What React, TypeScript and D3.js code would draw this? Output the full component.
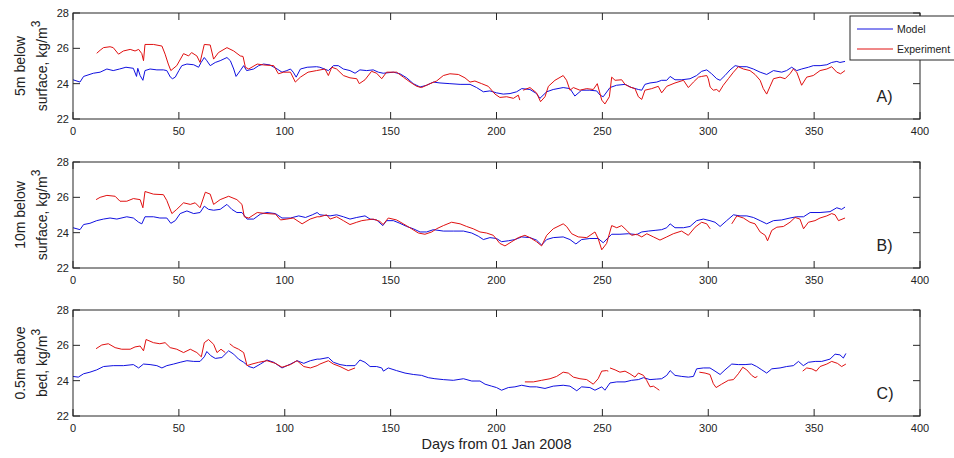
import React from 'react';
import * as d3 from 'd3';

type P = [number, number] | null;

const xTicks = [0, 50, 100, 150, 200, 250, 300, 350, 400];
const yTicks = [22, 24, 26, 28];
const panelLetters = ['A)', 'B)', 'C)'];
const yLabelLine1 = ['5m below', '10m below', '0.5m above'];
const yLabelLine2 = ['surface, kg/m', 'surface, kg/m', 'bed, kg/m'];
const legendNames = ['Model', 'Experiment'];
const xLabel = 'Days from 01 Jan 2008';

const modelA: P[] = [
  [0, 24.22], [3.3, 24.09], [5, 24.41], [9.6, 24.59], [12.8, 24.65], [16, 24.83], [19, 24.74], [22, 24.83],
  [25, 24.93], [28.5, 24.87], [30, 24.41], [30.6, 24.87], [31.7, 24.46], [33, 24.19], [34, 24.74], [36.4, 24.83],
  [39.6, 24.78], [42.7, 24.78], [44.3, 24.74], [46, 24.37], [47, 24.28], [48.3, 24.37], [50, 24.74], [51.4, 25.02],
  [53.8, 25.11], [57, 25.07], [59.3, 24.93], [60.5, 25.2], [62, 25.48], [63.2, 25.3], [64.8, 25.02], [67.2, 25.2],
  [69.5, 25.3], [72.7, 25.48], [74.3, 25.3], [75.9, 24.83], [77, 24.41], [79, 24.74], [80.6, 25.02], [82, 24.74],
  [85.3, 24.83], [87.7, 25.02], [90, 25.11], [93, 25.06], [96.4, 24.83], [98.7, 24.65], [101, 24.74], [102.7, 24.83],
  [104, 24.65], [105.4, 24.37], [107.4, 24.83], [110.6, 24.93], [115, 24.96], [116.6, 24.93], [120.6, 24.74],
  [123, 25.02], [125.3, 25.02], [127.7, 24.83], [130.8, 24.74], [133.2, 24.59], [135.5, 24.78], [138.7, 24.74],
  [141.8, 24.78], [144.2, 24.65], [146.5, 24.59], [151.3, 24.65], [154.4, 24.56], [157.6, 24.33], [160.7, 24.0],
  [163.9, 23.81], [167, 23.91], [170.2, 24.09], [173.3, 24.04], [178, 24.0], [182.8, 23.96], [187.5, 23.96],
  [190.6, 23.78], [193.8, 23.54], [196.9, 23.59], [200, 23.48], [203.2, 23.41], [206.4, 23.44], [209.5, 23.54],
  [211.9, 23.72], [215.8, 23.67], [218.9, 23.44], [220.5, 23.17], [223.7, 23.54], [226.8, 23.67], [231.5, 23.78],
  [234.7, 23.72], [237, 23.3], [240.2, 23.63], [244.1, 23.63], [247.3, 23.59], [248.9, 23.35], [250.4, 23.26],
  [253.6, 23.78], [256.7, 23.91], [260.7, 23.96], [263.8, 23.78], [267, 23.67], [268.6, 23.63], [270.1, 23.96],
  [272.5, 24.04], [275.7, 24.09], [278, 24.19], [280.4, 24.19], [282, 24.41], [284.3, 24.22], [287.5, 24.22],
  [291.4, 24.28], [294.5, 24.46], [296.9, 24.7], [299.3, 24.78], [301.6, 24.56], [304, 24.28], [305.6, 24.19],
  [307.9, 24.46], [310.3, 24.78], [312.7, 25.02], [315, 24.96], [318.2, 24.96], [321.3, 24.83], [324.5, 24.65],
  [327.6, 24.52], [330.8, 24.74], [334.7, 24.65], [337, 24.74], [339.4, 24.93], [341.8, 24.74], [344.1, 24.83],
  [347.3, 24.93], [349.6, 25.02], [352.8, 25.02], [356, 25.07], [358.3, 25.2], [360.7, 25.26], [362.2, 25.2],
  [364.6, 25.26],
];

const exptA: P[] = [
  [11.2, 25.72], [12.8, 25.89], [14.4, 26.04], [17.5, 26.09], [19, 26.04], [21.5, 25.67], [23.8, 25.85], [27, 25.94],
  [29.3, 25.85], [31, 25.94], [32.5, 25.7], [33.3, 25.3], [34, 26.22], [38, 26.22], [42, 26.13], [43.5, 25.67],
  [45, 25.11], [46.2, 24.74], [49, 25.02], [52.2, 25.7], [54.6, 25.57], [56, 25.76], [58.5, 25.57], [60, 25.2],
  [62, 26.22], [64.8, 26.19], [66.4, 25.39], [68.7, 25.76], [72.7, 26.04], [75.9, 25.85], [79, 25.57], [80.3, 25.54],
  [81.4, 24.93], [83, 24.83], [87, 25.11], [90, 25.06], [94.8, 25.02], [97, 24.56], [99.5, 24.65], [102.7, 24.65],
  [105, 24.09], [107.4, 24.37], [111, 24.65], [115, 24.74], [119, 24.83], [120.6, 24.46], [122.2, 24.93],
  [124.5, 24.83], [127.7, 24.46], [130.8, 24.33], [134, 24.28], [135.2, 24.0], [137.9, 24.22], [141, 24.7],
  [143.4, 24.59], [145.8, 24.28], [148.1, 24.65], [152.8, 24.65], [156, 24.37], [159.2, 24.09], [162.3, 23.85],
  [164.6, 23.78], [168.6, 24.0], [171.7, 24.15], [174.9, 24.46], [178, 24.56], [182, 24.52], [185.1, 24.33],
  [187.5, 24.09], [189.8, 24.15], [193, 24.0], [196.1, 23.85], [199.3, 23.41], [201.6, 23.22], [204.8, 23.26],
  [208, 23.17], [210.3, 23.35], [211, 23.07], null,
  [212.6, 23.63], [215.8, 23.78], [218.9, 23.48], [220.8, 22.98], [222.9, 23.26], [224.5, 23.85], [227.6, 24.19],
  [231.5, 24.46], [233.1, 24.19], [234.7, 23.63], [236.3, 23.78], [239.4, 23.63], [242.6, 23.72], [245.7, 23.67],
  [247.6, 24.0], [249.7, 23.07], [251.2, 22.85], [253.3, 23.26], [254.4, 24.37], [256, 24.19], [259.1, 24.22],
  [260.7, 23.96], [263, 23.81], [265.4, 23.72], [267, 23.26], [268.6, 23.11], [270.1, 23.63], [273.3, 23.72],
  [276.4, 23.85], [278, 23.48], [280.4, 23.85], [284.3, 24.04], [288.3, 24.19], [290.6, 23.78], [293, 24.09],
  [295.4, 24.37], [296.9, 24.41], [299.3, 24.46], [300, 24.28], [300.9, 23.81], [302.4, 23.63], [304, 23.67],
  [305.2, 23.54], [307.1, 23.91], [309.5, 24.28], [311.9, 24.65], [314.2, 24.96], [316.6, 24.83], [319.7, 24.74],
  [322.1, 24.52], [324.5, 24.19], [326, 23.72], [327.6, 23.41], [329.2, 23.85], [330.8, 24.28], [333.9, 24.37],
  [336.3, 24.28], [338.6, 24.56], [340.2, 24.83], [341.8, 24.65], [344.1, 23.91], [346.5, 24.37], [349.6, 24.46],
  [352.8, 24.74], [356, 24.83], [358.3, 24.96], [360.7, 24.65], [362.5, 24.56], [364.6, 24.74],
];

const modelB: P[] = [
  [0, 24.28], [3.3, 24.17], [5, 24.46], [8, 24.53], [11.2, 24.68], [14.4, 24.77], [17.5, 24.83], [20.7, 24.77],
  [25.4, 24.9], [28.5, 24.83], [31, 24.59], [32.5, 24.5], [34, 24.9], [38, 24.9], [41, 24.83], [44.3, 24.83],
  [46.2, 24.53], [48.3, 24.68], [50.6, 25.08], [53.8, 25.23], [57, 25.08], [60, 25.14], [62, 25.5], [64, 25.32],
  [66.4, 25.27], [69.5, 25.32], [72.7, 25.6], [75, 25.32], [77.4, 25.14], [79.8, 25.14], [82.2, 24.77], [85.3, 24.77],
  [88.5, 25.05], [91.6, 25.14], [95.6, 25.08], [98.7, 24.83], [102.7, 24.83], [106.6, 24.95], [109.8, 24.86],
  [113, 25.01], [115.3, 25.14], [116.6, 25.01], [121.4, 24.95], [124.5, 25.01], [127.7, 24.9], [130.8, 24.77],
  [134, 24.86], [137.9, 24.95], [140.3, 24.77], [143.4, 24.72], [146.3, 24.4], [148.1, 24.68], [151.3, 24.68],
  [154.4, 24.53], [157.6, 24.35], [160.7, 24.22], [163.9, 24.04], [167, 24.04], [170.2, 24.17], [174.9, 24.09],
  [179.6, 24.09], [184.4, 24.09], [188.3, 23.98], [191.4, 23.8], [193.8, 23.61], [196.9, 23.72], [200, 23.67],
  [202.4, 23.49], [205.6, 23.54], [208.7, 23.61], [211.9, 23.76], [215.8, 23.72], [218.9, 23.58], [221.3, 23.3],
  [223.7, 23.61], [226.8, 23.72], [231.5, 23.76], [234.7, 23.61], [237.5, 23.36], [240.2, 23.61], [244.1, 23.67],
  [248, 23.67], [250.4, 23.43], [254.4, 23.91], [258.3, 23.91], [262.3, 23.94], [266.2, 23.89], [268.6, 24.04],
  [271.7, 24.09], [274.9, 24.13], [278, 24.17], [280.4, 24.28], [282, 24.5], [284.3, 24.28], [288.3, 24.28],
  [291.4, 24.35], [294.5, 24.68], [297.7, 24.77], [300.8, 24.68], [303.2, 24.59], [305.6, 24.35], [308.7, 24.68],
  [311.9, 25.01], [315, 24.95], [318.2, 24.95], [321.3, 24.86], [324.5, 24.68], [327.6, 24.5], [330.8, 24.68],
  [334.7, 24.72], [338.6, 24.83], [341.8, 24.9], [345, 24.9], [348.1, 25.14], [352.8, 25.14], [357.5, 25.19],
  [360.7, 25.41], [363, 25.32], [364.6, 25.45],
];

const exptB: P[] = [
  [10.9, 25.87], [12.8, 26.0], [16, 26.11], [19.9, 26.06], [22.2, 25.78], [25.4, 25.78], [28.5, 25.93], [31.7, 25.87],
  [33, 25.41], [34, 26.33], [38, 26.18], [42.7, 26.15], [44.3, 25.82], [46.7, 25.08], [49, 25.32], [52.2, 25.69],
  [55.4, 25.6], [57.7, 25.69], [60, 25.41], [62.5, 26.29], [64.8, 26.18], [66.4, 25.6], [69.5, 25.87], [73.5, 26.06],
  [77.4, 25.87], [79.8, 25.6], [80.9, 24.9], [83, 24.83], [87, 25.14], [91.6, 25.08], [95.6, 25.05], [98, 24.72],
  [101, 24.77], [104, 24.83], [108.2, 24.5], [112, 24.77], [115.3, 24.9], [116.6, 24.9], [119.8, 25.01],
  [121.4, 24.77], [124.5, 24.9], [127.7, 24.68], [130.8, 24.46], [134, 24.59], [136.4, 24.68], [138.7, 24.72],
  [141.8, 24.77], [144.9, 24.64], [146.5, 24.46], [148.9, 24.83], [152.8, 24.72], [156, 24.5], [159.9, 24.22],
  [163.1, 23.98], [166.2, 23.91], [169.4, 24.04], [171.7, 24.22], [174.9, 24.4], [178.8, 24.59], [182.8, 24.5],
  [185.9, 24.35], [189, 24.22], [192.2, 24.04], [195.3, 23.98], [198.5, 23.85], [201.6, 23.39], [204, 23.25],
  [207.2, 23.49], [210.3, 23.72], [213.4, 23.85], [215.8, 23.72], [218.9, 23.49], [221.3, 23.25], [223.7, 23.85],
  [226.8, 24.22], [231.5, 24.5], [233.1, 24.35], [235.5, 23.94], [238.6, 23.76], [242.6, 23.72], [246.5, 24.04],
  [248, 23.67], [249.7, 23.03], [252, 23.39], [254.4, 24.4], [256.8, 24.28], [259.1, 24.4], [261.5, 24.13],
  [263.8, 23.85], [266.2, 23.91], [268.6, 23.76], [271, 23.94], [274.1, 23.76], [277.2, 23.58], [280.4, 23.76],
  [283.5, 23.94], [287.4, 24.09], [290.6, 23.85], [293.8, 24.31], [296.9, 24.59], [299.3, 24.5], [300.9, 24.22], null,
  [311.1, 24.5], [313.5, 24.95], [316.6, 24.83], [319.7, 24.59], [322.1, 24.5], [324.5, 24.04], [326.9, 23.85],
  [328, 23.54], [330, 24.13], [332.4, 24.31], [335.5, 24.35], [338.6, 24.59], [341, 24.86], [343.3, 24.77],
  [345, 24.22], [347.3, 24.59], [350.4, 24.68], [352.8, 24.83], [356, 24.95], [358.3, 25.08], [359.9, 25.01],
  [361.5, 24.68], [364.6, 24.83],
];

const modelC: P[] = [
  [0, 24.24], [2.5, 24.2], [5, 24.39], [8, 24.48], [11.2, 24.61], [14.4, 24.8], [19, 24.85], [23.8, 24.85],
  [28.5, 24.91], [31, 24.72], [33.3, 24.94], [36.4, 24.91], [39.6, 24.85], [42, 24.72], [44.3, 24.85], [47.5, 24.94],
  [50.6, 25.04], [53.8, 25.13], [57, 25.09], [60, 25.09], [62, 25.35], [63.2, 25.65], [65.1, 25.41], [67.2, 25.26],
  [70.3, 25.31], [73.5, 25.69], [75.9, 25.5], [78.2, 25.22], [80.6, 25.04], [83, 24.8], [85.3, 24.72], [88.5, 24.94],
  [91.6, 25.17], [94.8, 25.04], [98.7, 24.72], [102.7, 24.94], [105.8, 25.13], [109, 24.98], [112.1, 25.13],
  [115.3, 25.22], [116.6, 25.22], [120.6, 25.31], [123, 25.04], [126.1, 24.91], [129.2, 24.85], [133.2, 24.85],
  [135.5, 25.17], [137.9, 25.04], [140.3, 24.8], [143.4, 24.8], [145.8, 24.72], [146.6, 24.54], [148.9, 24.72],
  [152.8, 24.57], [156.8, 24.43], [160.7, 24.35], [164.6, 24.3], [167.8, 24.17], [170.9, 24.11], [174.9, 24.06],
  [179.6, 24.02], [184.4, 24.11], [188.3, 23.98], [192.2, 23.98], [194.6, 23.8], [197.7, 23.69], [200, 23.61],
  [202.4, 23.46], [205.6, 23.61], [208.7, 23.65], [211.9, 23.74], [215.8, 23.65], [218.9, 23.65], [222.9, 23.56],
  [226.8, 23.69], [231.5, 23.74], [234.7, 23.69], [237.9, 23.43], [240.2, 23.65], [244.1, 23.61], [246.5, 23.46],
  [249.7, 23.65], [251.2, 23.46], [253.6, 23.87], [256.8, 23.93], [260.7, 23.93], [263.8, 24.02], [267, 24.06],
  [269.4, 24.17], [272.5, 24.06], [275.7, 24.09], [278, 24.11], [280.4, 24.3], [282, 24.57], [284.3, 24.3],
  [287.5, 24.24], [290.6, 24.2], [293, 24.24], [294.5, 24.67], [297.7, 24.72], [300.8, 24.72], [303.2, 24.54],
  [305.6, 24.35], [307.9, 24.61], [311.1, 24.94], [314.2, 24.91], [317.4, 24.91], [320.5, 24.94], [322.9, 24.8],
  [325.3, 24.61], [327.6, 24.43], [330, 24.67], [333.9, 24.72], [337, 24.8], [340.2, 24.85], [342.6, 25.09],
  [344.9, 24.85], [347.3, 25.04], [350.5, 25.09], [353.6, 25.09], [357.5, 25.22], [359.9, 25.5], [362.2, 25.46],
  [363.8, 25.28], [365, 25.54],
];

const exptC: P[] = [
  [10.9, 25.81], [13.6, 26.02], [16.7, 26.09], [19.9, 25.87], [23, 25.78], [27, 25.78], [29.3, 25.91], [31.7, 25.96],
  [33.3, 25.69], [34.5, 26.33], [38, 26.15], [41, 26.09], [43.5, 26.15], [45.9, 25.87], [49, 25.78], [52.2, 25.59],
  [55.4, 25.78], [58.5, 25.59], [60.6, 25.35], [62, 26.15], [64, 26.33], [66.4, 26.06], [68, 25.59], [69.9, 25.78],
  [71.9, 25.59], null,
  [74, 26.09], [75.9, 25.91], [78.2, 25.78], [80.6, 25.59], [82.2, 24.85], [84.5, 24.94], [87.7, 25.04], [91.6, 25.13],
  [95.6, 24.98], [98.7, 24.76], [102.7, 24.91], [105.8, 25.13], [109, 24.8], [112.1, 24.72], [115.3, 24.85],
  [116.6, 24.94], [120.6, 25.13], [123, 24.94], [126.1, 24.8], [130, 24.57], [133.2, 24.72], null,
  [213.4, 23.93], [217.4, 23.93], [221.3, 24.02], [225.3, 24.11], [228.4, 24.24], [231.5, 24.48], [233.9, 24.43],
  [236.3, 24.2], [239.4, 24.11], [242.6, 24.06], [245.7, 23.8], [248, 24.11], [249.7, 24.54], [252, 24.57],
  [252.8, 24.54], null,
  [253.6, 24.72], [256, 24.61], [258.3, 24.48], [260.7, 24.54], [263, 24.39], [265.4, 24.2], [267, 24.43],
  [269.4, 24.3], [270.9, 24.02], [272.5, 23.65], [274.1, 23.69], [275.7, 23.56], [276.9, 23.46], null,
  [295.8, 24.48], [298.5, 24.43], [300.8, 24.35], [302.4, 23.83], [303.7, 23.61], [306.3, 23.8], [309.5, 24.02],
  [311.9, 24.06], [314.2, 24.39], [316.3, 24.76], [318.2, 24.61], [320.5, 24.3], [322.1, 24.17], [323.2, 24.24], null,
  [344.6, 24.54], [346.5, 24.72], [348.9, 24.67], [351, 24.54], [352.8, 24.8], [356, 24.94], [358.3, 25.09],
  [361, 24.98], [363, 24.8], [365, 24.94],
];

const modelSeries = [modelA, modelB, modelC];
const exptSeries = [exptA, exptB, exptC];

const W = 954;
const H = 458;
const X0 = 73;
const X1 = 920;
const TOPS = [13, 162, 310];
const PH = 106;
const TICK = 7;
const AX = '#262626';
const BLUE = '#1010e0';
const RED = '#e01010';
const FONT = "'Liberation Sans', Arial, Helvetica, sans-serif";

export default function App() {
  const x = d3.scaleLinear().domain([0, 400]).range([X0, X1]);
  return (
    <svg width={W} height={H} style={{ position: 'absolute', left: 0, top: 0, background: '#fff' }} fontFamily={FONT}>
      <rect x={0} y={0} width={W} height={H} fill="#fff" />
      {TOPS.map((top, i) => {
        const y = d3.scaleLinear().domain([22, 28]).range([top + PH, top]);
        const line = d3
          .line<P>()
          .defined((d) => d !== null)
          .x((d) => x((d as [number, number])[0]))
          .y((d) => y((d as [number, number])[1]));
        const cy = top + PH / 2;
        return (
          <g key={i}>
            <path d={line(modelSeries[i]) || ''} fill="none" stroke={BLUE} strokeWidth={1} />
            <path d={line(exptSeries[i]) || ''} fill="none" stroke={RED} strokeWidth={1} />
            <rect x={X0} y={top} width={X1 - X0} height={PH} fill="none" stroke={AX} strokeWidth={1} />
            {xTicks.map((t) => (
              <g key={'x' + t}>
                <line x1={x(t)} x2={x(t)} y1={top + PH} y2={top + PH - TICK} stroke={AX} />
                <line x1={x(t)} x2={x(t)} y1={top} y2={top + TICK} stroke={AX} />
                <text x={x(t)} y={top + PH + 15.5} textAnchor="middle" fontSize={11} fill="#222">
                  {t}
                </text>
              </g>
            ))}
            {yTicks.map((t) => (
              <g key={'y' + t}>
                <line x1={X0} x2={X0 + TICK} y1={y(t)} y2={y(t)} stroke={AX} />
                <line x1={X1 - TICK} x2={X1} y1={y(t)} y2={y(t)} stroke={AX} />
                <text x={X0 - 4} y={y(t) + 4} textAnchor="end" fontSize={11} fill="#222">
                  {t}
                </text>
              </g>
            ))}
            <text transform={`translate(25,${cy}) rotate(-90)`} textAnchor="middle" fontSize={14} fill="#222">
              {yLabelLine1[i]}
            </text>
            <text transform={`translate(46.5,${cy}) rotate(-90)`} textAnchor="middle" fontSize={14} fill="#222">
              {yLabelLine2[i]}
              <tspan fontSize={12} dy={-7}>3</tspan>
            </text>
            <text x={x(379.5)} y={y(22.95)} fontSize={16} fill="#222">
              {panelLetters[i]}
            </text>
          </g>
        );
      })}
      <text x={x(200)} y={449} textAnchor="middle" fontSize={14.5} fill="#222">
        {xLabel}
      </text>
      <g>
        <rect x={850} y={16} width={120} height={44} fill="#fff" stroke={AX} strokeWidth={1} />
        <line x1={857} x2={893} y1={29} y2={29} stroke={BLUE} />
        <line x1={857} x2={893} y1={49} y2={49} stroke={RED} />
        <text x={897} y={33} fontSize={10.5} fill="#222">{legendNames[0]}</text>
        <text x={897} y={53} fontSize={10.5} fill="#222">{legendNames[1]}</text>
      </g>
    </svg>
  );
}
